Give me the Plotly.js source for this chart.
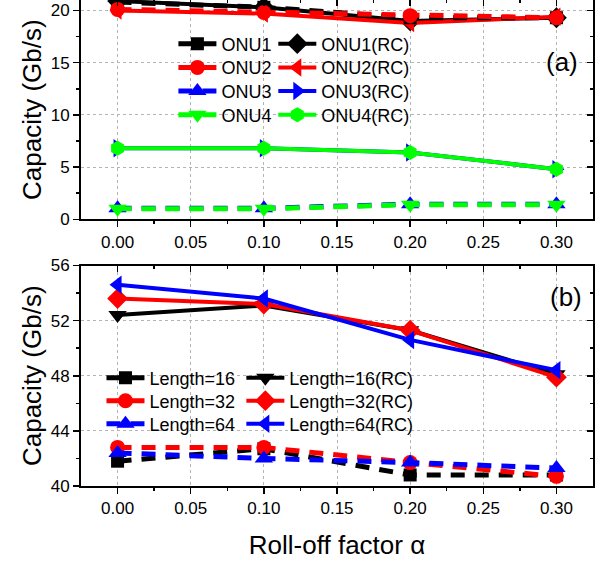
<!DOCTYPE html>
<html>
<head>
<meta charset="utf-8">
<script src="https://cdn.plot.ly/plotly-3.0.1.min.js"></script>
<style>html,body{margin:0;padding:0;background:#fff}#chart{width:605px;height:565px}</style>
</head>
<body>
<div id="chart"></div>
<script>
// ---- data ----
const rollOff = [0.00, 0.10, 0.20, 0.30];

const onuNames = ["ONU1", "ONU2", "ONU3", "ONU4"];
const onuRcNames = ["ONU1(RC)", "ONU2(RC)", "ONU3(RC)", "ONU4(RC)"];
const onu1 = [20.8, 20.3, 19.3, 19.3];
const onu2 = [20.1, 19.8, 19.5, 19.3];
const onu3 = [1.05, 1.05, 1.45, 1.45];
const onu4 = [1.0, 1.0, 1.4, 1.4];
const onu1Rc = [20.9, 20.3, 19.0, 19.3];
const onu2Rc = [20.0, 19.7, 18.8, 19.4];
const onu3Rc = [6.8, 6.8, 6.4, 4.8];
const onu4Rc = [6.8, 6.8, 6.4, 4.8];

const lenNames = ["Length=16", "Length=32", "Length=64"];
const lenRcNames = ["Length=16(RC)", "Length=32(RC)", "Length=64(RC)"];
const len16 = [41.8, 42.7, 40.8, 40.8];
const len32 = [42.8, 42.8, 41.7, 40.7];
const len64 = [42.4, 42.0, 41.7, 41.3];
const len16Rc = [52.4, 53.1, 51.3, 48.1];
const len32Rc = [53.6, 53.2, 51.3, 47.9];
const len64Rc = [54.6, 53.6, 50.6, 48.4];

const xTickVals = [0.00, 0.05, 0.10, 0.15, 0.20, 0.25, 0.30];
const xTickText = ["0.00", "0.05", "0.10", "0.15", "0.20", "0.25", "0.30"];

// ---- styles ----
const FONT = "Liberation Sans, Arial, sans-serif";
const DASH = "14px,10px";
function tr(name, y, color, symbol, dashed, xa, ya, legend, msize) {
  return {
    x: rollOff, y: y, name: name, type: "scatter", mode: "lines+markers",
    xaxis: xa, yaxis: ya, legend: legend,
    line: {color: color, width: dashed ? 5 : 4, dash: dashed ? DASH : "solid"},
    marker: {color: color, symbol: symbol, size: msize || 14, line: {width: 0}},
    cliponaxis: false
  };
}

const traces = [
  // top panel
  tr(onuRcNames[0], onu1Rc, "#000000", "diamond", false, "x", "y", "legend5", 16),
  tr(onuRcNames[1], onu2Rc, "#ff0000", "triangle-left", false, "x", "y", "legend6", 16),
  tr(onuNames[0], onu1, "#000000", "square", true, "x", "y", "legend", 13),
  tr(onuNames[1], onu2, "#ff0000", "circle", true, "x", "y", "legend2", 15),
  tr(onuRcNames[2], onu3Rc, "#0000ff", "triangle-right", false, "x", "y", "legend7", 16),
  tr(onuRcNames[3], onu4Rc, "#00ff00", "hexagon", false, "x", "y", "legend8", 15),
  tr(onuNames[2], onu3, "#0000ff", "triangle-up", true, "x", "y", "legend3", 16),
  tr(onuNames[3], onu4, "#00ff00", "triangle-down", true, "x", "y", "legend4", 16),
  // bottom panel
  tr(lenNames[0], len16, "#000000", "square", true, "x2", "y2", "legend9", 13),
  tr(lenNames[1], len32, "#ff0000", "circle", true, "x2", "y2", "legend10", 15),
  tr(lenNames[2], len64, "#0000ff", "triangle-up", true, "x2", "y2", "legend11", 16),
  tr(lenRcNames[0], len16Rc, "#000000", "triangle-down", false, "x2", "y2", "legend12", 16),
  tr(lenRcNames[1], len32Rc, "#ff0000", "diamond", false, "x2", "y2", "legend13", 16),
  tr(lenRcNames[2], len64Rc, "#0000ff", "triangle-left", false, "x2", "y2", "legend14", 16)
];
// dummy traces for inner-tick overlay axes
traces.push({x: [], y: [], xaxis: "x3", yaxis: "y3", showlegend: false, type: "scatter"});
traces.push({x: [], y: [], xaxis: "x4", yaxis: "y4", showlegend: false, type: "scatter"});

const PLOT_L = 80.5, PLOT_W = 512.5, PLOT_H = 486;
const topDom = [0.5488, 1];
const botDom = [0, 0.4537];
const xRange = [-0.025, 0.325];
const tickFont = {family: FONT, size: 17, color: "#000"};

function xAxis(anchor, title) {
  const a = {
    domain: [0, 1], anchor: anchor, range: xRange,
    tickvals: xTickVals, ticktext: xTickText,
    ticks: "outside", ticklen: 6, tickwidth: 1.5, tickcolor: "#000",
    showline: true, linewidth: 2, linecolor: "#000", mirror: true,
    showgrid: true, gridcolor: "#b4b4b4", griddash: "dot", gridwidth: 1,
    zeroline: false, tickfont: tickFont,
    minor: {tickvals: [0.025, 0.075, 0.125, 0.175, 0.225, 0.275], ticks: "outside", ticklen: 3, tickwidth: 1.5, tickcolor: "#000", showgrid: false}
  };
  if (title) a.title = {text: title, font: {family: FONT, size: 26, color: "#000"}, standoff: 18};
  return a;
}
function yAxis(domain, anchor, range, dtick, mdtick) {
  return {
    domain: domain, anchor: anchor, range: range, dtick: dtick, tick0: range[0],
    ticks: "outside", ticklen: 6, tickwidth: 1.5, tickcolor: "#000",
    showline: true, linewidth: 2, linecolor: "#000", mirror: true,
    showgrid: true, gridcolor: "#b4b4b4", griddash: "dot", gridwidth: 1,
    zeroline: false, tickfont: tickFont,
    title: {text: "Capacity (Gb/s)", font: {family: FONT, size: 26, color: "#000"}, standoff: 2},
    minor: {dtick: mdtick, tick0: range[0], ticks: "outside", ticklen: 3, tickwidth: 1.5, tickcolor: "#000", showgrid: false}
  };
}
function innerX(overlay, anchor) {
  return {overlaying: overlay, anchor: anchor, side: "top", range: xRange, tickvals: xTickVals,
    ticks: "inside", ticklen: 6, tickwidth: 1.5, tickcolor: "#000", showticklabels: false,
    showgrid: false, zeroline: false, showline: false,
    minor: {tickvals: [0.025, 0.075, 0.125, 0.175, 0.225, 0.275], ticks: "inside", ticklen: 3, tickwidth: 1.5, tickcolor: "#000", showgrid: false}};
}
function innerY(overlay, anchor, range, dtick, mdtick) {
  return {overlaying: overlay, anchor: anchor, side: "right", range: range, dtick: dtick, tick0: range[0],
    ticks: "inside", ticklen: 6, tickwidth: 1.5, tickcolor: "#000", showticklabels: false,
    showgrid: false, zeroline: false, showline: false,
    minor: {dtick: mdtick, tick0: range[0], ticks: "inside", ticklen: 3, tickwidth: 1.5, tickcolor: "#000", showgrid: false}};
}

const legFont = {family: FONT, size: 18, color: "#000"};
// one legend per row: textX = pixel where the label starts, rowY = pixel row centre
function leg(textX, rowY) {
  const left = textX - 49;
  const top = rowY - 17.5;
  return {x: (left - PLOT_L) / PLOT_W, y: 1 - top / PLOT_H, xanchor: "left", yanchor: "top",
    bgcolor: "rgba(0,0,0,0)", borderwidth: 0, font: legFont, itemwidth: 38, orientation: "v"};
}
const topRows = [43, 66.7, 90.3, 114];
const botRows = [377, 400, 423];

const layout = {
  width: 605, height: 565,
  margin: {l: PLOT_L, r: 12, t: 0, b: 79},
  paper_bgcolor: "#fff", plot_bgcolor: "#fff",
  font: {family: FONT, color: "#000"},
  showlegend: true,
  xaxis: xAxis("y", null),
  yaxis: yAxis(topDom, "x", [0, 21], 5, 2.5),
  xaxis2: xAxis("y2", "Roll-off factor \u03b1"),
  yaxis2: yAxis(botDom, "x2", [40, 56], 4, 2),
  xaxis3: innerX("x", "y3"),
  yaxis3: innerY("y", "x3", [0, 21], 5, 2.5),
  xaxis4: innerX("x2", "y4"),
  yaxis4: innerY("y2", "x4", [40, 56], 4, 2),
  legend: leg(222, topRows[0]),
  legend2: leg(222, topRows[1]),
  legend3: leg(222, topRows[2]),
  legend4: leg(222, topRows[3]),
  legend5: leg(322, topRows[0]),
  legend6: leg(322, topRows[1]),
  legend7: leg(322, topRows[2]),
  legend8: leg(322, topRows[3]),
  legend9: leg(150, botRows[0]),
  legend10: leg(150, botRows[1]),
  legend11: leg(150, botRows[2]),
  legend12: leg(290, botRows[0]),
  legend13: leg(290, botRows[1]),
  legend14: leg(290, botRows[2]),
  annotations: [
    {xref: "paper", yref: "paper", x: (562 - PLOT_L) / PLOT_W, y: 1 - 62 / PLOT_H, xanchor: "center", yanchor: "middle", text: "(a)", showarrow: false, font: {family: FONT, size: 26, color: "#000"}},
    {xref: "paper", yref: "paper", x: (566 - PLOT_L) / PLOT_W, y: 1 - 297 / PLOT_H, xanchor: "center", yanchor: "middle", text: "(b)", showarrow: false, font: {family: FONT, size: 26, color: "#000"}}
  ]
};

Plotly.newPlot("chart", traces, layout, {staticPlot: true, displayModeBar: false});
</script>
</body>
</html>
